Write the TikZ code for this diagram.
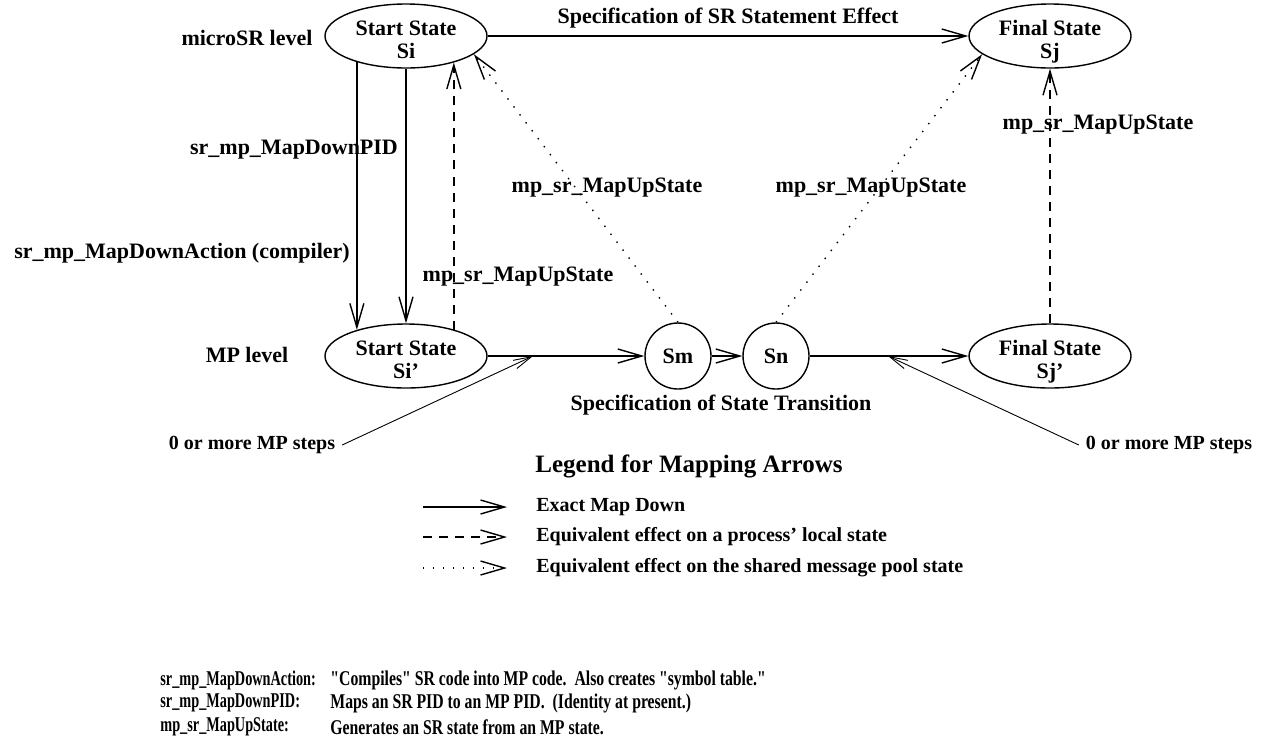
\documentclass[tikz,border=0pt]{standalone}
\usepackage{fontspec}
\setmainfont{Liberation Serif}
\newfontfamily\namefont{Liberation Serif}[FakeStretch=0.68]
\newfontfamily\descfont{Liberation Serif}[FakeStretch=0.75]
\usetikzlibrary{arrows.meta,shapes.geometric}

\begin{document}
\begin{tikzpicture}[
    x=0.5pt, y=-0.5pt,
    >={Straight Barb[length=12pt,width=7pt]},
    state/.style={ellipse, draw, line width=0.7pt, inner sep=0pt, minimum width=81pt, minimum height=32pt, align=center, text height=22pt, text depth=0pt, font=\bfseries\fontsize{11}{11.5}\selectfont},
    substate/.style={circle, draw, line width=0.7pt, inner sep=0pt, minimum size=33pt, font=\bfseries\fontsize{11}{11.5}\selectfont},
    lbl/.style={font=\bfseries\fontsize{11}{13}\selectfont},
    small/.style={font=\bfseries\fontsize{10}{12}\selectfont},
    legtext/.style={anchor=west, inner sep=0pt, font=\bfseries\fontsize{10}{12}\selectfont},
    tblname/.style={anchor=west, inner sep=0pt, font=\namefont\bfseries\fontsize{10.5}{12}\selectfont},
    tbldesc/.style={anchor=west, inner sep=0pt, font=\descfont\bfseries\fontsize{10.5}{12}\selectfont},
    arr/.style={->, line width=0.7pt},
    dasharr/.style={arr, dash pattern=on 4.5pt off 3.5pt},
    dotarr/.style={arr, dash pattern=on 0.7pt off 4.3pt},
    steparr/.style={-{Straight Barb[length=9pt,width=4.5pt]}, line width=0.45pt}
]
    \useasboundingbox (0,0) rectangle (1261,746);

    % States
    \node[state] (Si) at (406,36) {Start State\\Si};
    \node[state, right of=Si, node distance=322pt] (Sj) {Final State\\Sj};
    \node[state, below of=Si, node distance=160pt] (Sip) {Start State\\Si'};
    \node[substate, right of=Sip, node distance=136pt] (Sm) {Sm};
    \node[substate, right of=Sm, node distance=49pt] (Sn) {Sn};
    \node[state, below of=Sj, node distance=160pt] (Sjp) {Final State\\Sj'};

    % Levels
    \node[lbl] (srlevel) at (247,38) {microSR level};
    \node[lbl] (mplevel) at (247,355) {MP level};

    % Exact map down
    \draw[arr] (Si) -- node[lbl, above] {Specification of SR Statement Effect} (Sj);
    \draw[arr] (Si.208) -- (Sip.152);
    \draw[arr] (Si.south) -- (Sip.north);
    \node[lbl] (downpid) at (294,150) {sr\_mp\_MapDownPID};
    \node[lbl] (downact) at (182,253) {sr\_mp\_MapDownAction (compiler)};
    \draw[arr] (Sip) -- (Sm);
    \draw[arr] (Sm) -- (Sn);
    \draw[arr] (Sn) -- (Sjp);
    \node[lbl] (spectrans) at (721,405) {Specification of State Transition};

    % Map up
    \draw[dasharr] (Sip.29) -- (Si.-29);
    \draw[dasharr] (Sjp.north) -- (Sj.south);
    \draw[dotarr] (Sm.north) -- (Si.-15);
    \draw[dotarr] (Sn.north) -- (Sj.195);
    \node[lbl] (upA) at (518,277) {mp\_sr\_MapUpState};
    \node[lbl] (upB) at (607,188) {mp\_sr\_MapUpState};
    \node[lbl] (upC) at (871,188) {mp\_sr\_MapUpState};
    \node[lbl] (upD) at (1098,125) {mp\_sr\_MapUpState};

    % Steps
    \node[small] (stepsL) at (252,445) {0 or more MP steps};
    \node[small] (stepsR) at (1169,445) {0 or more MP steps};
    \coordinate (stepL) at (533,356);
    \coordinate (stepR) at (888,356);
    \draw[steparr] (stepsL.east) -- (stepL);
    \draw[steparr] (stepsR.west) -- (stepR);

    % Legend
    \node[font=\bfseries\fontsize{12.5}{14}\selectfont] (legend) at (689,466) {Legend for Mapping Arrows};
    \node[legtext] (exact) at (536,507) {Exact Map Down};
    \node[legtext] (local) at (536,537) {Equivalent effect on a process' local state};
    \node[legtext] (pool) at (536,568) {Equivalent effect on the shared message pool state};
    \draw[arr] ([xshift=-56.5pt]exact.west) -- ([xshift=-14.5pt]exact.west);
    \draw[dasharr] ([xshift=-56.5pt]local.west) -- ([xshift=-14.5pt]local.west);
    \draw[dotarr] ([xshift=-56.5pt]pool.west) -- ([xshift=-14.5pt]pool.west);

    % Definitions
    \node[tblname] (nameAct) at (160,680) {sr\_mp\_MapDownAction:};
    \node[tbldesc] (descAct) at (330,680) {"Compiles" SR code into MP code.\ \ Also creates "symbol table."};
    \node[tblname] (namePid) at (160,703) {sr\_mp\_MapDownPID:};
    \node[tbldesc] (descPid) at (330,703) {Maps an SR PID to an MP PID.\ \ (Identity at present.)};
    \node[tblname] (nameUp) at (160,727) {mp\_sr\_MapUpState:};
    \node[tbldesc] (descUp) at (330,727) {Generates an SR state from an MP state.};
\end{tikzpicture}
\end{document}
